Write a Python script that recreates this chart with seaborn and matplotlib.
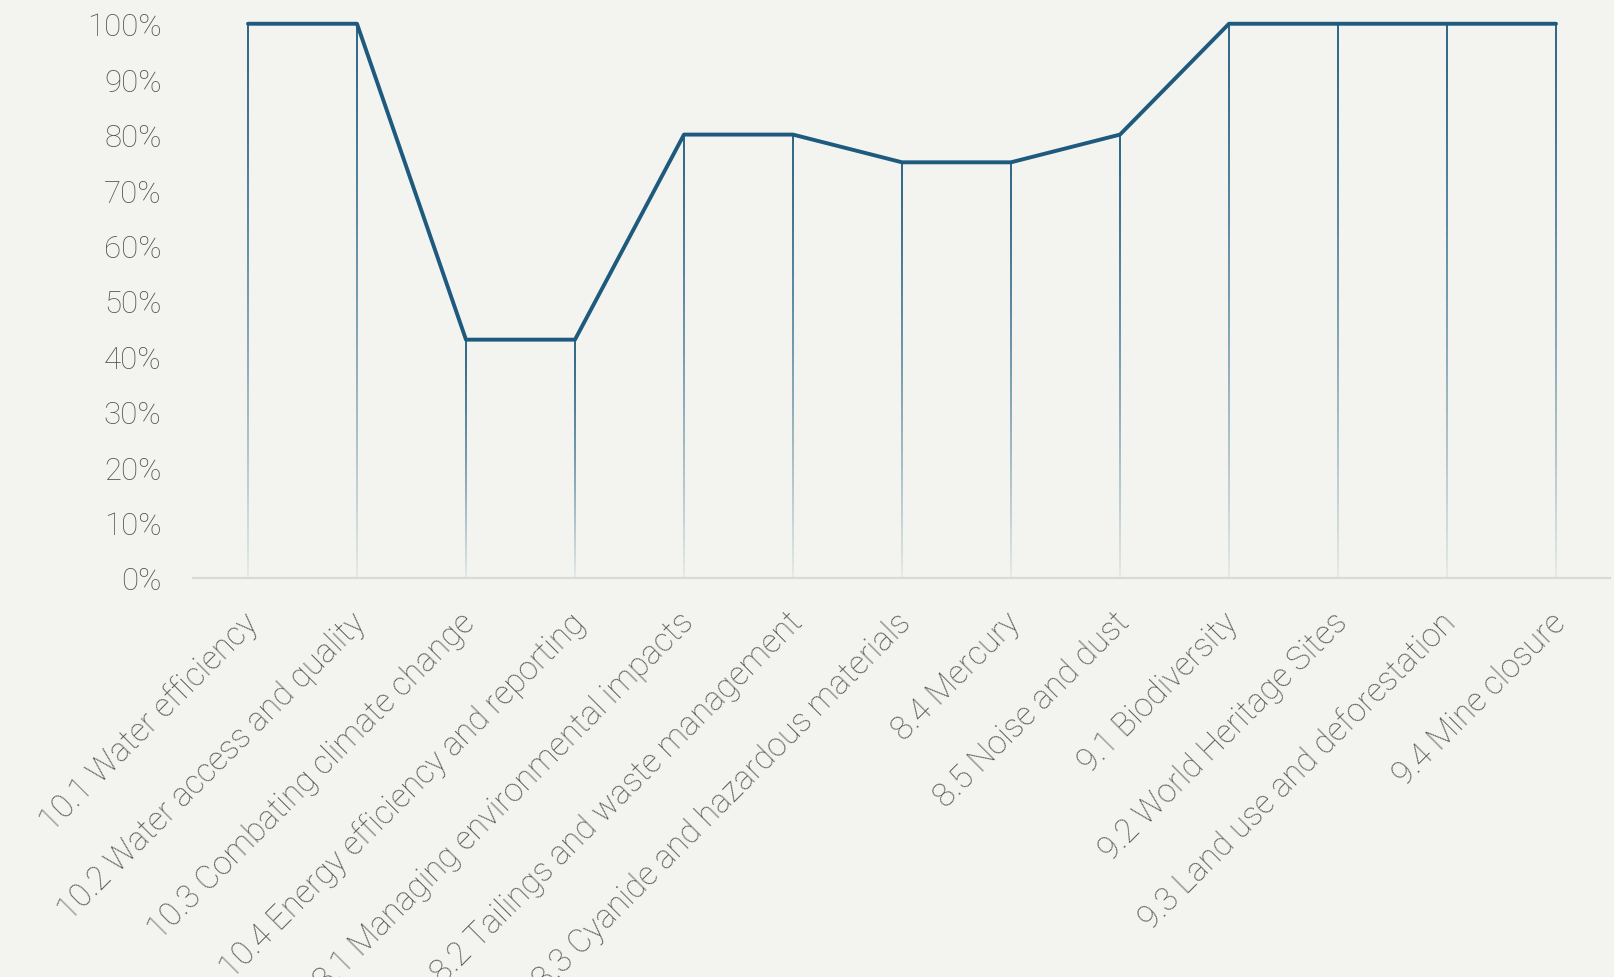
import numpy as np
import pandas as pd
import matplotlib
matplotlib.use("Agg")
import matplotlib.pyplot as plt
import matplotlib.transforms as mtransforms
from matplotlib.collections import LineCollection
from matplotlib.colors import to_rgba
from matplotlib.ticker import PercentFormatter
import seaborn as sns

categories = [
    "10.1 Water efficiency",
    "10.2 Water access and quality",
    "10.3 Combating climate change",
    "10.4 Energy efficiency and reporting",
    "8.1 Managing environmental impacts",
    "8.2 Tailings and waste management",
    "8.3 Cyanide and hazardous materials",
    "8.4 Mercury",
    "8.5 Noise and dust",
    "9.1 Biodiversity",
    "9.2 World Heritage Sites",
    "9.3 Land use and deforestation",
    "9.4 Mine closure",
]
scores = [100, 100, 43, 43, 80, 80, 75, 75, 80, 100, 100, 100, 100]

BG = "#f3f4ef"
LINE = "#1d5a7e"
TEXT = "#545454"

sns.set_theme(style="white")
plt.rcParams["font.family"] = ["Roboto", "DejaVu Sans"]

df = pd.DataFrame({"pos": np.arange(len(categories)), "score": scores})

fig = plt.figure(figsize=(16.15, 9.78), dpi=100, facecolor=BG)
ax = fig.add_axes([0.1198, 0.408, 0.8774, 0.5667])
ax.set_facecolor(BG)

# drop lines from each point down to zero, fading towards the baseline
n_steps = 60
base = np.array(to_rgba(LINE))
for x, v in zip(df["pos"], df["score"]):
    ys = np.linspace(v, 0, n_steps + 1)
    segs = [[(x, ys[i]), (x, ys[i + 1])] for i in range(n_steps)]
    t = np.linspace(0, 1, n_steps)
    cols = np.tile(base, (n_steps, 1))
    cols[:, 3] = 1.0 - 0.92 * t ** 1.3
    lc = LineCollection(segs, colors=cols, linewidths=1.3, capstyle="butt", zorder=2)
    ax.add_collection(lc)

sns.lineplot(data=df, x="pos", y="score", ax=ax, color=LINE, linewidth=2.8,
             zorder=3, clip_on=False)

ax.set_xlim(-0.5, len(categories) - 0.5)
ax.set_ylim(0, 100)
ax.set_yticks(np.arange(0, 101, 10))
ax.yaxis.set_major_formatter(PercentFormatter(decimals=0))
ax.set_xticks(df["pos"])
ax.set_xticklabels(categories, rotation=45, ha="right", va="top",
                   rotation_mode="anchor")
ax.tick_params(axis="y", length=0, pad=23, labelsize=22.5, labelcolor=TEXT)
ax.tick_params(axis="x", length=0, pad=20, labelsize=23.5, labelcolor=TEXT)

shift = mtransforms.ScaledTranslation(-0.07, 0, fig.dpi_scale_trans)
for lbl in ax.get_xticklabels():
    lbl.set_fontweight("light")
    lbl.set_transform(lbl.get_transform() + shift)
for lbl in ax.get_yticklabels():
    lbl.set_fontweight("light")

ax.set_xlabel("")
ax.set_ylabel("")
for side in ["top", "right", "left"]:
    ax.spines[side].set_visible(False)
ax.spines["bottom"].set_color("#d9d9d9")
ax.spines["bottom"].set_linewidth(1.6)
ax.grid(False)

fig.savefig("out.png", dpi=100, facecolor=BG)
